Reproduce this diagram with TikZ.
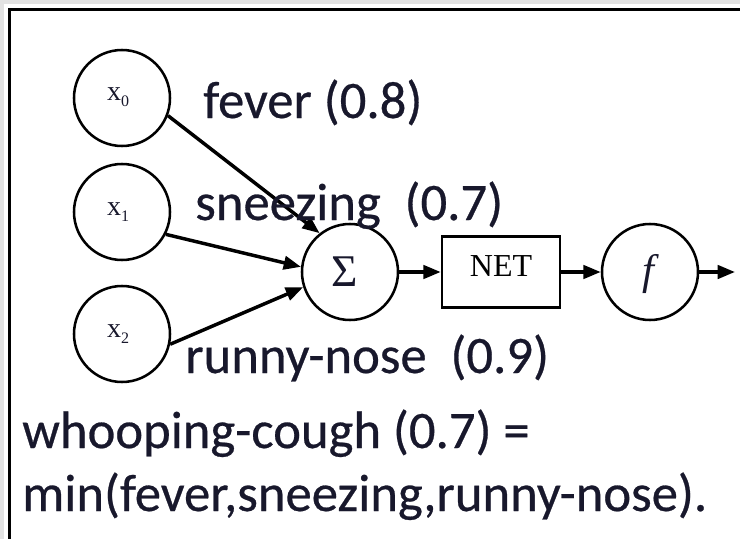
\documentclass[tikz,border=0pt]{standalone}
\usepackage{fontspec}
\setmainfont{Carlito}[FakeBold=0.5]
\newfontfamily\tnr{Liberation Serif}
\usetikzlibrary{arrows.meta}
\definecolor{txt}{RGB}{24,24,44}
\definecolor{bggray}{RGB}{226,226,226}
\begin{document}
\begin{tikzpicture}[x=0.75pt,y=-0.75pt,
  neuron/.style={circle,draw=black,line width=1.9pt,minimum size=72pt,inner sep=0pt},
  netbox/.style={rectangle,draw=black,line width=1.9pt,minimum width=88.5pt,minimum height=53pt,inner sep=0pt,
     font=\tnr\fontsize{24}{24}\selectfont,text height=16pt,text depth=9pt},
  conn/.style={line width=2.6pt,-{Triangle[length=13pt,width=10pt]}},
  lbl/.style={anchor=base west,inner sep=0pt,text=txt,font=\fontsize{39.5}{47}\selectfont},
  small/.style={font=\tnr\fontsize{21}{21}\selectfont,text=txt}
]
\useasboundingbox (0,0) rectangle (740,539);
\fill[bggray] (0,0) rectangle (740,539);
\fill[white] (3.5,3.5) rectangle (740,539);
\draw[black,line width=2.4pt] (9.5,539) -- (9.5,9.5) -- (740,9.5);

\node[neuron] (x0) at (122,98) {};
\node[neuron] (x1) at (122,212) {};
\node[neuron] (x2) at (122,334) {};
\node[neuron] (sum) at (350,272) {};
\node[netbox] (net) at (501,272) {NET};
\node[neuron] (f) at (650,272) {};
\coordinate (out) at (735,272);

\node[small] (x0t) at (118,97) {x\raisebox{-4pt}{\fontsize{12}{12}\selectfont 0}};
\node[small] (x1t) at (118,212) {x\raisebox{-4pt}{\fontsize{12}{12}\selectfont 1}};
\node[small] (x2t) at (118,334) {x\raisebox{-4pt}{\fontsize{12}{12}\selectfont 2}};
\node[text=txt,font=\tnr\fontsize{34}{34}\selectfont] (sigma) at (345,272) {Σ};
\node[text=txt,font=\tnr\itshape\fontsize{32}{32}\selectfont] (ft) at (648,274) {f};

\draw[conn] (x0.-21) -- (sum.128);
\draw[conn] (x1.-27) -- (sum.174);
\draw[conn] (x2.-12) -- (sum.-162);
\draw[conn] (sum.east) -- (net.west);
\draw[conn] (net.east) -- (f.west);
\draw[conn] (f.east) -- (out);

\node[lbl] (fever) at (203,118) {fever (0.8)};
\node[lbl] (sneeze) at (195,220) {sneezing\ \ (0.7)};
\node[lbl] (runny) at (185,373) {runny-nose\ \ (0.9)};
\node[lbl] (whoop) at (22,448) {whooping-cough (0.7) =};
\node[lbl] (minl) at (22,511) {min(fever,sneezing,runny-nose).};
\end{tikzpicture}
\end{document}
